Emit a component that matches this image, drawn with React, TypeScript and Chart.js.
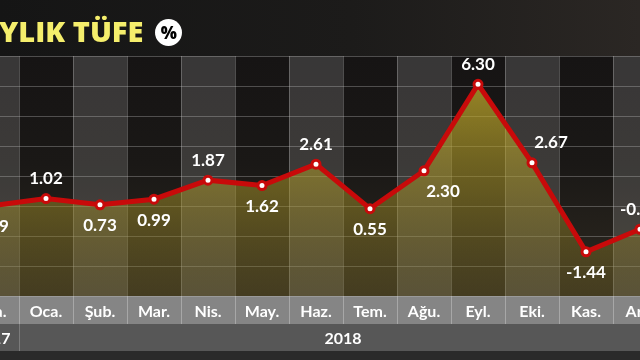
import React, { useEffect, useRef } from "react";
import { Chart, registerables } from "chart.js";

Chart.register(...registerables);

// ---- data ----
const months = ["Ara.", "Oca.", "Şub.", "Mar.", "Nis.", "May.", "Haz.", "Tem.", "Ağu.", "Eyl.", "Eki.", "Kas.", "Ara."];
const values = [0.69, 1.02, 0.73, 0.99, 1.87, 1.62, 2.61, 0.55, 2.3, 6.3, 2.67, -1.44, -0.4];
const labelPlacement = ["below", "above", "below", "below", "above", "below", "above", "below", "belowRight", "above", "aboveRight", "below", "above"];
const yearLabels = ["2017", "2018"];
const yearFirstIndex = [0, 1];
const yearLastIndex = [0, 12];
const titleText = "AYLIK TÜFE";
const yMin = -3.486;
const yMax = 7.61;
const gridCount = 8;

const FONT = "Lato, 'Open Sans', sans-serif";

const backdropPlugin = {
  id: "backdrop",
  beforeDraw(chart: any) {
    const { ctx, chartArea: a, scales } = chart;
    const x = scales.x;
    const colW = (a.right - a.left) / months.length;
    ctx.save();
    const g = ctx.createLinearGradient(0, a.top, 0, a.bottom);
    g.addColorStop(0, "#161414");
    g.addColorStop(0.45, "#1a1816");
    g.addColorStop(1, "#2e2920");
    ctx.fillStyle = g;
    ctx.fillRect(a.left, a.top, a.right - a.left, a.bottom - a.top);
    months.forEach((_, i) => {
      if (i % 2 === 0) {
        const cx = x.getPixelForValue(i);
        ctx.fillStyle = "rgba(255,255,255,0.15)";
        ctx.fillRect(cx - colW / 2, a.top, colW, a.bottom - a.top);
      }
    });
    // month label row
    const rowH = 28;
    ctx.fillStyle = "#858585";
    ctx.fillRect(a.left, a.bottom, a.right - a.left, rowH);
    ctx.strokeStyle = "rgba(255,255,255,0.28)";
    ctx.lineWidth = 1;
    months.forEach((_, i) => {
      const bx = Math.round(x.getPixelForValue(i) - colW / 2) + 0.5;
      ctx.beginPath();
      ctx.moveTo(bx, a.bottom);
      ctx.lineTo(bx, a.bottom + rowH);
      ctx.stroke();
    });
    // year row
    const yearH = 27;
    ctx.fillStyle = "#575757";
    ctx.fillRect(a.left, a.bottom + rowH, a.right - a.left, yearH);
    ctx.strokeStyle = "rgba(255,255,255,0.22)";
    yearFirstIndex.forEach((fi, k) => {
      if (k === 0) return;
      const bx = Math.round(x.getPixelForValue(fi) - colW / 2) + 0.5;
      ctx.beginPath();
      ctx.moveTo(bx, a.bottom + rowH);
      ctx.lineTo(bx, a.bottom + rowH + yearH);
      ctx.stroke();
    });
    ctx.fillStyle = "#ffffff";
    ctx.font = `bold 16px ${FONT}`;
    ctx.textAlign = "center";
    ctx.textBaseline = "middle";
    yearLabels.forEach((lbl, k) => {
      const cx = (x.getPixelForValue(yearFirstIndex[k]) + x.getPixelForValue(yearLastIndex[k])) / 2;
      ctx.fillText(lbl, cx, a.bottom + rowH + yearH / 2 + 1);
    });
    ctx.restore();
  },
  afterDatasetsDraw(chart: any) {
    const { ctx } = chart;
    const meta = chart.getDatasetMeta(0);
    ctx.save();
    ctx.font = `bold 17px ${FONT}`;
    ctx.fillStyle = "#ffffff";
    ctx.textAlign = "center";
    ctx.textBaseline = "middle";
    meta.data.forEach((pt: any, i: number) => {
      const place = labelPlacement[i];
      let dx = 0;
      const dy = place.startsWith("above") ? -20 : 21;
      if (place.endsWith("Right")) dx = 19;
      ctx.fillText(values[i].toFixed(2), pt.x + dx, pt.y + dy);
    });
    ctx.restore();
  },
};

export default function App() {
  const ref = useRef<HTMLCanvasElement>(null);
  useEffect(() => {
    if (!ref.current) return;
    const chart = new Chart(ref.current, {
      type: "line",
      data: {
        labels: months,
        datasets: [
          {
            data: values,
            borderColor: "#c80a0a",
            borderWidth: 5,
            pointRadius: 4,
            pointBorderWidth: 3,
            pointBackgroundColor: "#ffffff",
            pointBorderColor: "#c80a0a",
            tension: 0,
            fill: "start",
            clip: false,
            backgroundColor: (c: any) => {
              const area = c.chart.chartArea;
              if (!area) return "rgba(180,160,40,0.5)";
              const g = c.chart.ctx.createLinearGradient(0, area.top + 28, 0, area.bottom);
              g.addColorStop(0, "rgba(205,180,45,0.7)");
              g.addColorStop(0.5, "rgba(170,150,40,0.5)");
              g.addColorStop(1, "rgba(120,105,35,0.3)");
              return g;
            },
          },
        ],
      },
      options: {
        animation: false,
        responsive: false,
        devicePixelRatio: 1,
        layout: { autoPadding: false, padding: { top: 56, left: 0, right: 0, bottom: 0 } },
        plugins: { legend: { display: false }, tooltip: { enabled: false }, title: { display: false } },
        scales: {
          x: {
            type: "category",
            offset: true,
            grid: { offset: true, color: "rgba(200,200,200,0.32)", drawTicks: false, lineWidth: 1 },
            border: { display: false },
            ticks: { color: "#ffffff", font: { family: FONT, size: 16, weight: "bold" }, padding: 6, maxRotation: 0, autoSkip: false },
            afterFit: (s: any) => {
              s.height = 64;
              s.paddingLeft = 0;
              s.paddingRight = 0;
            },
          },
          y: {
            min: yMin,
            max: yMax,
            grid: { color: "rgba(200,200,200,0.32)", drawTicks: false, lineWidth: 1 },
            border: { display: false },
            ticks: { display: false },
            afterBuildTicks: (s: any) => {
              s.ticks = Array.from({ length: gridCount + 1 }, (_, i) => ({ value: yMin + (i * (yMax - yMin)) / gridCount }));
            },
            afterFit: (s: any) => {
              s.width = 0;
              s.paddingTop = 0;
              s.paddingBottom = 0;
            },
          },
        },
      },
      plugins: [backdropPlugin],
    });
    return () => chart.destroy();
  }, []);

  return (
    <div
      style={{
        position: "fixed",
        left: 0,
        top: 0,
        width: 640,
        height: 360,
        overflow: "hidden",
        background: "linear-gradient(90deg, #151515 0%, #1c1b1a 55%, #2b2724 100%)",
      }}
    >
      <div style={{ position: "absolute", left: 0, right: 0, bottom: 0, height: 12, background: "#2a2a2a" }} />
      <canvas
        ref={ref}
        width={702}
        height={360}
        style={{ position: "absolute", left: -35, top: 0, width: 702, height: 360 }}
      />
      <div
        style={{
          position: "absolute",
          left: -22,
          top: 11,
          display: "flex",
          alignItems: "center",
          whiteSpace: "nowrap",
        }}
      >
        <span
          style={{
            fontFamily: "'Open Sans', sans-serif",
            fontWeight: 800,
            fontSize: 29,
            color: "#f5ee6c",
            lineHeight: "40px",
          }}
        >
          {titleText}
        </span>
        <span
          style={{
            marginLeft: 12,
            width: 27,
            height: 27,
            borderRadius: "50%",
            background: "#ffffff",
            color: "#000000",
            fontFamily: "'Open Sans', sans-serif",
            fontWeight: 800,
            fontSize: 17,
            display: "inline-flex",
            alignItems: "center",
            justifyContent: "center",
            marginTop: 2,
          }}
        >
          %
        </span>
      </div>
    </div>
  );
}
